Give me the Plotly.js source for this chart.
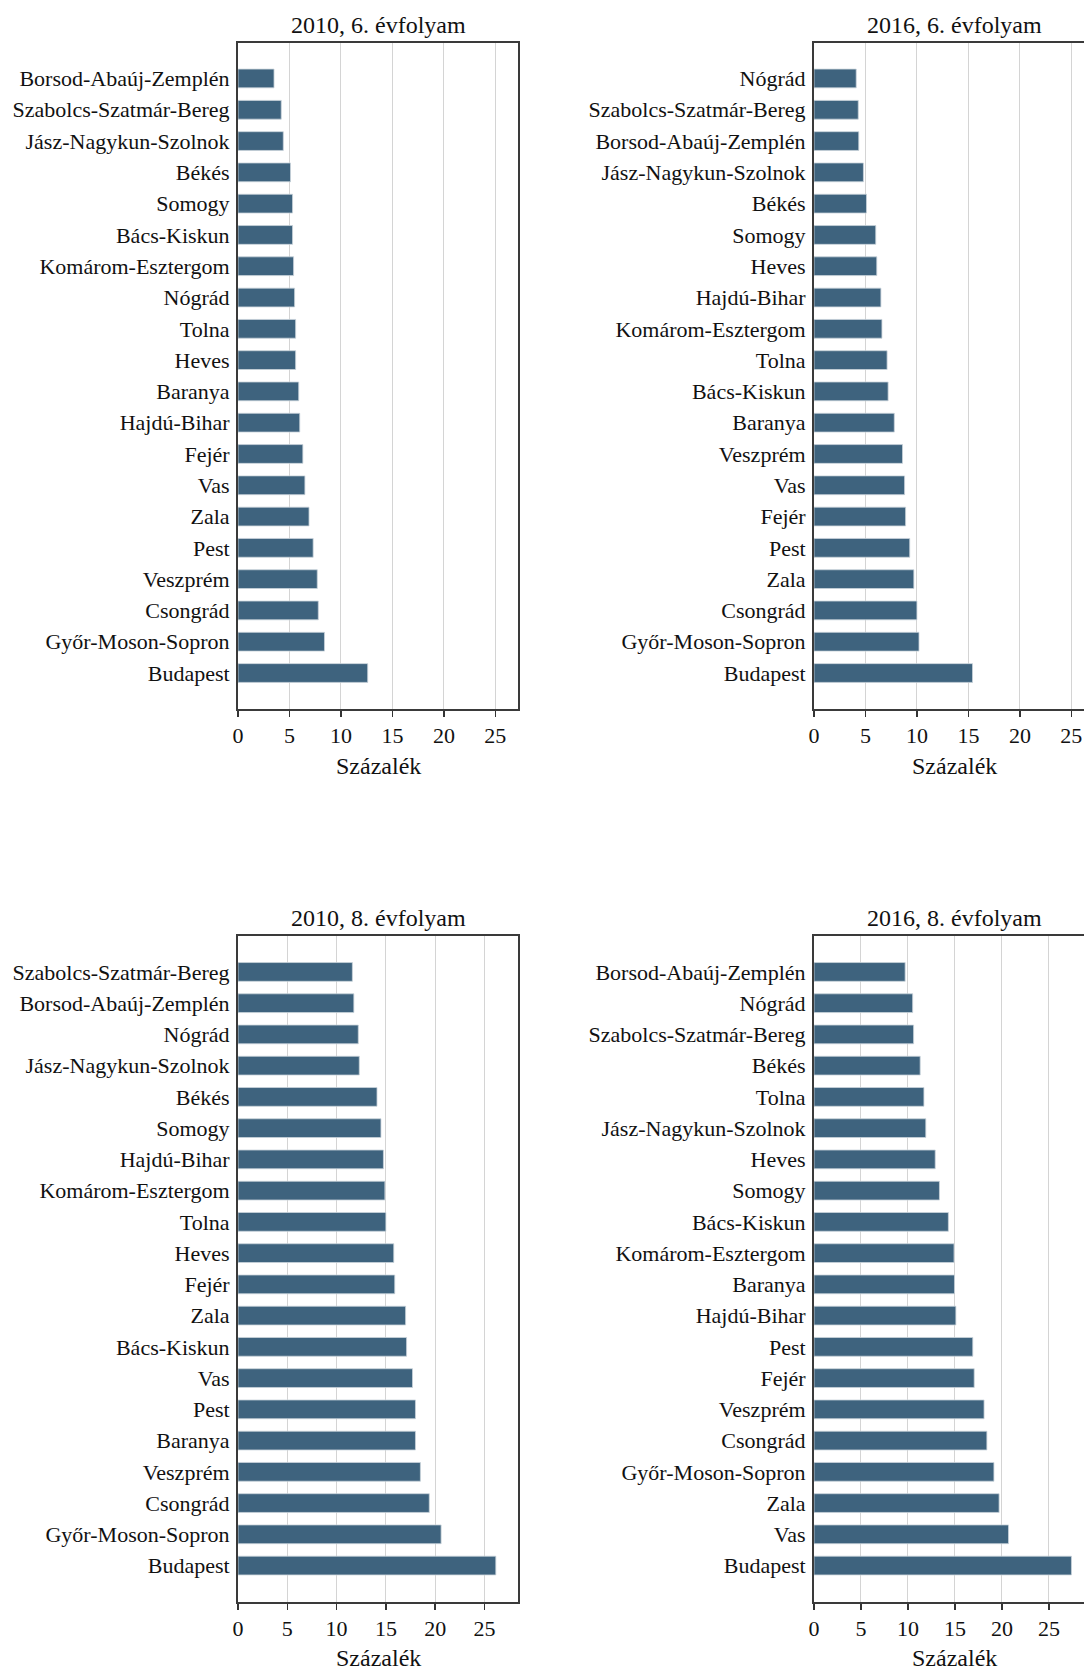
<!DOCTYPE html>
<html>
<head>
<meta charset="utf-8">
<script src="https://cdn.plot.ly/plotly-3.0.1.min.js"></script>
<style>
  html, body { margin: 0; padding: 0; background: #ffffff; overflow: hidden; }
  #chart { width: 1100px; height: 1670px; }
</style>
</head>
<body>
<div id="chart"></div>
<script>
// ---- Data ----
var panelTitles = ["2010, 6. évfolyam", "2016, 6. évfolyam", "2010, 8. évfolyam", "2016, 8. évfolyam"];
var axisTitle = "Százalék";
var xTicks = [0, 5, 10, 15, 20, 25];

var cat2010g6 = ["Borsod-Abaúj-Zemplén", "Szabolcs-Szatmár-Bereg", "Jász-Nagykun-Szolnok", "Békés", "Somogy",
  "Bács-Kiskun", "Komárom-Esztergom", "Nógrád", "Tolna", "Heves", "Baranya", "Hajdú-Bihar", "Fejér", "Vas",
  "Zala", "Pest", "Veszprém", "Csongrád", "Győr-Moson-Sopron", "Budapest"];
var val2010g6 = [3.5, 4.2, 4.4, 5.1, 5.3, 5.3, 5.4, 5.5, 5.6, 5.6, 5.9, 6.0, 6.3, 6.5, 6.9, 7.3, 7.7, 7.8, 8.4, 12.6];

var cat2016g6 = ["Nógrád", "Szabolcs-Szatmár-Bereg", "Borsod-Abaúj-Zemplén", "Jász-Nagykun-Szolnok", "Békés",
  "Somogy", "Heves", "Hajdú-Bihar", "Komárom-Esztergom", "Tolna", "Bács-Kiskun", "Baranya", "Veszprém", "Vas",
  "Fejér", "Pest", "Zala", "Csongrád", "Győr-Moson-Sopron", "Budapest"];
var val2016g6 = [4.1, 4.3, 4.35, 4.8, 5.1, 6.0, 6.1, 6.5, 6.6, 7.1, 7.2, 7.8, 8.6, 8.8, 8.9, 9.3, 9.7, 10.0, 10.2, 15.4];

var cat2010g8 = ["Szabolcs-Szatmár-Bereg", "Borsod-Abaúj-Zemplén", "Nógrád", "Jász-Nagykun-Szolnok", "Békés",
  "Somogy", "Hajdú-Bihar", "Komárom-Esztergom", "Tolna", "Heves", "Fejér", "Zala", "Bács-Kiskun", "Vas",
  "Pest", "Baranya", "Veszprém", "Csongrád", "Győr-Moson-Sopron", "Budapest"];
var val2010g8 = [11.6, 11.75, 12.2, 12.3, 14.1, 14.5, 14.75, 14.9, 15.0, 15.8, 15.9, 17.0, 17.1, 17.7, 18.0, 18.0, 18.5, 19.4, 20.6, 26.15];

var cat2016g8 = ["Borsod-Abaúj-Zemplén", "Nógrád", "Szabolcs-Szatmár-Bereg", "Békés", "Tolna",
  "Jász-Nagykun-Szolnok", "Heves", "Somogy", "Bács-Kiskun", "Komárom-Esztergom", "Baranya", "Hajdú-Bihar",
  "Pest", "Fejér", "Veszprém", "Csongrád", "Győr-Moson-Sopron", "Zala", "Vas", "Budapest"];
var val2016g8 = [9.7, 10.5, 10.6, 11.3, 11.7, 11.9, 12.9, 13.35, 14.3, 14.9, 14.95, 15.1, 16.9, 17.05, 18.1, 18.4, 19.15, 19.7, 20.7, 27.4];

// ---- Styling / layout ----
var W = 1100, H = 1670;
var FONT = "'Liberation Serif', 'Times New Roman', Times, serif";
var BAR = "#3e637e";
var TXT = "#111111";

var panels = [
  {cats: cat2010g6, vals: val2010g6, x0: 238, x1: 518, top: 42.5, bot: 709, xmax: 27.2, titleY: 24.5, axY: 765.6},
  {cats: cat2016g6, vals: val2016g6, x0: 814, x1: 1094, top: 42.5, bot: 709, xmax: 27.2, titleY: 24.5, axY: 765.6},
  {cats: cat2010g8, vals: val2010g8, x0: 238, x1: 518, top: 936, bot: 1601.5, xmax: 28.4, titleY: 918, axY: 1658},
  {cats: cat2016g8, vals: val2016g8, x0: 814, x1: 1094, top: 936, bot: 1601.5, xmax: 29.8, titleY: 918, axY: 1658}
];

var data = [];
var layout = {
  width: W, height: H,
  margin: {l: 0, r: 0, t: 0, b: 0, pad: 0},
  paper_bgcolor: "#ffffff",
  plot_bgcolor: "#ffffff",
  showlegend: false,
  bargap: 0.4,
  font: {family: FONT, color: TXT, size: 22},
  annotations: []
};

panels.forEach(function (p, i) {
  var n = i + 1;
  var xa = n === 1 ? "x" : "x" + n;
  var ya = n === 1 ? "y" : "y" + n;
  data.push({
    type: "bar", orientation: "h",
    x: p.vals, y: p.cats,
    xaxis: xa, yaxis: ya,
    marker: {color: BAR, line: {color: "#c9d3db", width: 0.8}},
    hoverinfo: "x+y"
  });
  var n1 = p.cats.length - 1;
  layout["xaxis" + (n === 1 ? "" : n)] = {
    domain: [p.x0 / W, p.x1 / W],
    anchor: ya,
    range: [0, p.xmax],
    tickvals: xTicks,
    ticktext: xTicks.map(String),
    ticks: "outside", ticklen: 6, tickwidth: 1.5, tickcolor: "#333333",
    tickfont: {family: FONT, size: 22, color: TXT},
    showgrid: true, gridcolor: "#d4d4d4", gridwidth: 1,
    zeroline: false,
    showline: true, linecolor: "#3a3a3a", linewidth: 2, mirror: true,
    fixedrange: true
  };
  layout["yaxis" + (n === 1 ? "" : n)] = {
    domain: [1 - p.bot / H, 1 - p.top / H],
    anchor: xa,
    type: "category",
    categoryorder: "array", categoryarray: p.cats,
    range: [n1 + 1.15, -1.15],
    ticks: "", showgrid: false, zeroline: false,
    tickfont: {family: FONT, size: 22, color: TXT},
    ticklabelstandoff: 2,
    showline: true, linecolor: "#3a3a3a", linewidth: 2, mirror: true,
    fixedrange: true
  };
  layout.annotations.push({
    text: panelTitles[i], xref: "paper", yref: "paper",
    x: ((p.x0 + p.x1) / 2) / W, y: 1 - p.titleY / H,
    xanchor: "center", yanchor: "middle", showarrow: false,
    font: {family: FONT, size: 24, color: TXT}
  });
  layout.annotations.push({
    text: axisTitle, xref: "paper", yref: "paper",
    x: ((p.x0 + p.x1) / 2) / W, y: 1 - p.axY / H,
    xanchor: "center", yanchor: "middle", showarrow: false,
    font: {family: FONT, size: 24, color: TXT}
  });
});

Plotly.newPlot("chart", data, layout, {staticPlot: true, displayModeBar: false});
</script>
</body>
</html>
